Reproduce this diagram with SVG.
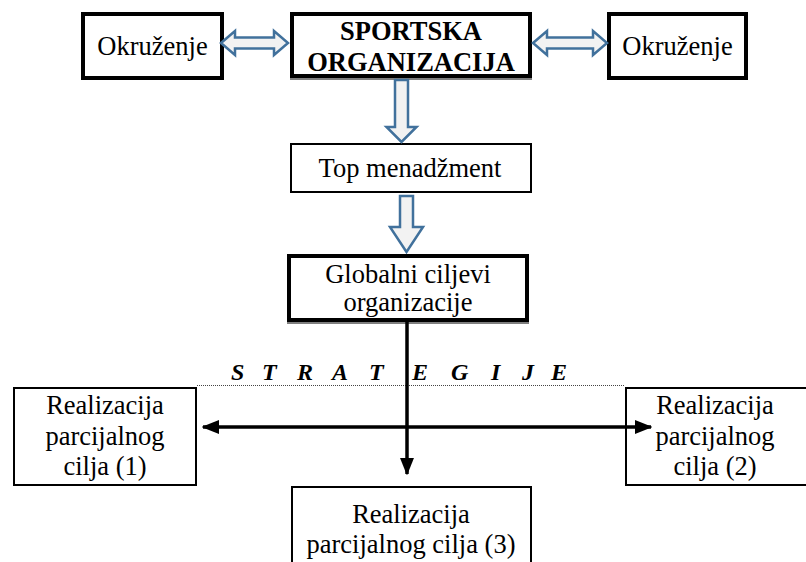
<svg xmlns="http://www.w3.org/2000/svg" width="806" height="562" viewBox="0 0 806 562">
<defs>
<style>
text{font-family:'Liberation Serif','DejaVu Serif',serif;font-size:26.5px;fill:#000;text-anchor:middle}
.b{font-weight:bold}
.thick{fill:#fff;stroke:#000;stroke-width:4}
.thin{fill:#fff;stroke:#000;stroke-width:2}
.hol{fill:#f2f2f2;stroke:#41719c;stroke-width:2.5;stroke-linejoin:miter}
.con{stroke:#000;stroke-width:3.5;fill:none}
</style>
<marker id="ah" markerWidth="5" markerHeight="4" refX="4.6" refY="2" orient="auto" markerUnits="strokeWidth">
<path d="M0,0 L5,2 L0,4 Z" fill="#000"/>
</marker>
</defs>
<rect width="806" height="562" fill="#fff"/>

<g id="okruzenje-left">
<rect class="thick" x="83" y="14" width="139" height="64"/>
<text x="152.5" y="55">Okruženje</text>
</g>
<g id="sportska-organizacija">
<rect class="thick" x="292" y="14" width="238" height="62"/>
<line x1="290" y1="79" x2="532" y2="79" stroke="#000" stroke-width="1.2"/>
<text class="b" x="411" y="40">SPORTSKA</text>
<text class="b" x="411" y="71">ORGANIZACIJA</text>
</g>
<g id="okruzenje-right">
<rect class="thick" x="609" y="14" width="137" height="64"/>
<text x="677.5" y="55">Okruženje</text>
</g>
<g id="top-menadzment">
<rect class="thin" x="291" y="144" width="240" height="48"/>
<text x="410" y="177">Top menadžment</text>
</g>
<g id="globalni-ciljevi">
<rect class="thick" x="289" y="256" width="238" height="64"/>
<line x1="287" y1="323" x2="529" y2="323" stroke="#000" stroke-width="1.2"/>
<text x="408" y="283">Globalni ciljevi</text>
<text x="408" y="311">organizacije</text>
</g>
<g id="cilj-1">
<rect class="thin" x="14" y="388" width="182" height="97"/>
<text x="105" y="414">Realizacija</text>
<text x="105" y="445">parcijalnog</text>
<text x="105" y="475">cilja (1)</text>
</g>
<g id="cilj-2">
<rect class="thin" x="626" y="388" width="182" height="97"/>
<text x="715" y="414">Realizacija</text>
<text x="715" y="445">parcijalnog</text>
<text x="715" y="475">cilja (2)</text>
</g>
<g id="cilj-3">
<rect class="thin" x="292" y="487" width="239" height="80"/>
<text x="411" y="523">Realizacija</text>
<text x="411" y="553">parcijalnog cilja (3)</text>
</g>

<text class="b" x="231 262 297 332 369 412 451 491 522 551" y="380" style="text-anchor:start;font-size:24px;font-style:italic">STRATEGIJE</text>

<g id="connectors">
<line x1="197" y1="385.5" x2="625" y2="385.5" stroke="#444" stroke-width="1" stroke-dasharray="1,1"/>
<path class="hol" d="M221,43 L235,31 L235,37.5 L274,37.5 L274,31 L288,43 L274,55 L274,48.5 L235,48.5 L235,55 Z"/>
<path class="hol" d="M533,43 L547,31 L547,37.5 L593,37.5 L593,31 L607,43 L593,55 L593,48.5 L547,48.5 L547,55 Z"/>
<path class="hol" d="M395,80 L408,80 L408,127 L416.5,127 L401.5,142 L386.5,127 L395,127 Z"/>
<path class="hol" d="M400,196 L413,196 L413,227 L423,227 L406.5,252 L390,227 L400,227 Z"/>
<line class="con" x1="407" y1="322" x2="407" y2="474" marker-end="url(#ah)"/>
<line class="con" x1="407" y1="427" x2="203" y2="427" marker-end="url(#ah)"/>
<line class="con" x1="407" y1="427" x2="651" y2="427" marker-end="url(#ah)"/>
</g>
</svg>
